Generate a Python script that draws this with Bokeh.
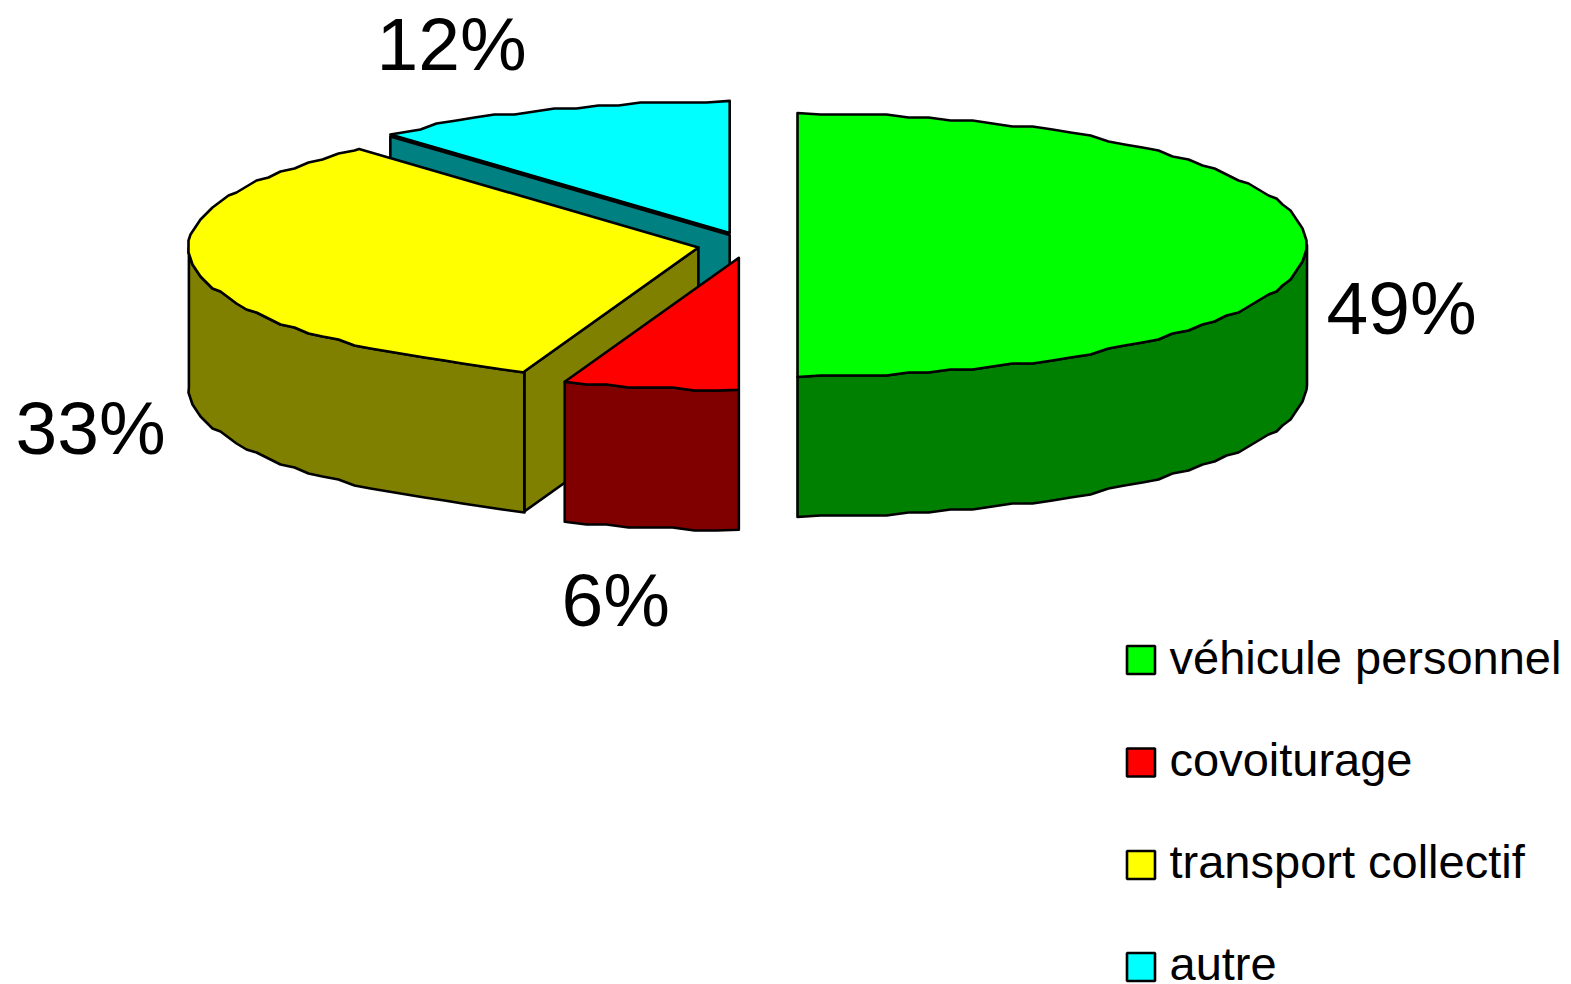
import math
from bokeh.plotting import figure
from bokeh.models import Range1d
from bokeh.core.properties import value
from bokeh.embed import file_html
from bokeh.resources import INLINE

# --- data ---
categories = ["véhicule personnel", "covoiturage", "transport collectif", "autre"]
shares = [50.0, 5.55, 32.85, 11.6]
share_labels = ["49%", "6%", "33%", "12%"]
top_colors = ["#00ff00", "#ff0000", "#ffff00", "#00ffff"]
side_colors = ["#008000", "#800000", "#808000", "#008080"]

# --- layout, in page pixels ---
CX, CY = 747.0, 244.5
RX, RY = 509.5, 132.0
DEPTH = 140.0
EXPLODE = 50.0
STEP = 2.5
GX, GY = 2.0, 3.0
BASE_SHIFT = 0.37
FACE_DROP = [0, 0, 0, 2.0]
label_size, legend_font = 75, 47
label_x = [1326, 561, 15, 376]
label_base = [335, 627, 455, 71]
legend_x0, legend_x1 = 1126.5, 1154.5
legend_top = [645.5, 748, 850.5, 952.5]
legend_size = 28
legend_text_x = 1169
legend_base = [674, 776, 878, 980]

p = figure(width=1571, height=984, output_backend="svg", toolbar_location=None,
           x_range=Range1d(0, 1571), y_range=Range1d(984, 0), min_border=0,
           outline_line_color=None, background_fill_color="white")
p.axis.visible = False
p.grid.visible = False


def rim(ax, ay, a0, a1):
    """Outer edge between two clockwise angles (degrees from 12 o'clock), on a coarse grid."""
    k0 = math.floor(a0 / STEP) + 1
    k1 = math.ceil(a1 / STEP) - 1
    pts = []
    for a_d, snap in [(a0, False)] + [(k * STEP, True) for k in range(k0, k1 + 1)] + [(a1, False)]:
        a = math.radians(a_d)
        x = ax + RX * math.sin(a)
        y = ay - RY * math.cos(a)
        if snap:
            x = round(x / GX) * GX
            y = round(y / GY) * GY
        if not pts or pts[-1] != (x, y):
            pts.append((x, y))
    return pts


def shape(pts, color):
    p.patch([q[0] for q in pts], [q[1] for q in pts], fill_color=color,
            line_color="black", line_width=2.6, line_join="round")


def down(pts):
    return [(x, y + DEPTH) for x, y in pts]


total = sum(shares)
spans = []
acc = 0.0
for s in shares:
    spans.append((acc, acc + s / total * 360.0))
    acc += s / total * 360.0

for i in [3, 2, 1, 0]:
    a0, a1 = spans[i]
    mid = math.radians((a0 + a1) / 2)
    ax = CX + EXPLODE * math.sin(mid)
    ay = CY - EXPLODE * RY / RX * math.cos(mid)
    # cut face along the starting edge
    if 180 < a0 < 360:
        edge = [(ax, ay + FACE_DROP[i]), rim(ax, ay + FACE_DROP[i], a0, a0)[0]]
        shape(edge + down(edge)[::-1], side_colors[i])
    # outer wall, only where it faces the viewer
    lo, hi = max(a0, 90), min(a1, 270)
    if lo < hi:
        wall = rim(ax, ay, lo, hi)
        shape(wall + down(wall)[::-1], side_colors[i])
    # top face
    shape([(ax, ay)] + rim(ax, ay, a0, a1), top_colors[i])

for i, lab in enumerate(share_labels):
    p.text([label_x[i]], [label_base[i] - BASE_SHIFT * label_size], text=[lab],
           text_font=value("Liberation Sans"), text_font_size=f"{label_size}px", text_color="black",
           text_baseline="alphabetic", text_align="left")

for i, name in enumerate(categories):
    p.quad(left=[legend_x0], right=[legend_x1], top=[legend_top[i]], bottom=[legend_top[i] + legend_size],
           fill_color=top_colors[i], line_color="black", line_width=2.6)
    p.text([legend_text_x], [legend_base[i] - BASE_SHIFT * legend_font], text=[name],
           text_font=value("Liberation Sans"), text_font_size=f"{legend_font}px", text_color="black",
           text_baseline="alphabetic", text_align="left")

open("out.html", "w").write(file_html(p, INLINE))
